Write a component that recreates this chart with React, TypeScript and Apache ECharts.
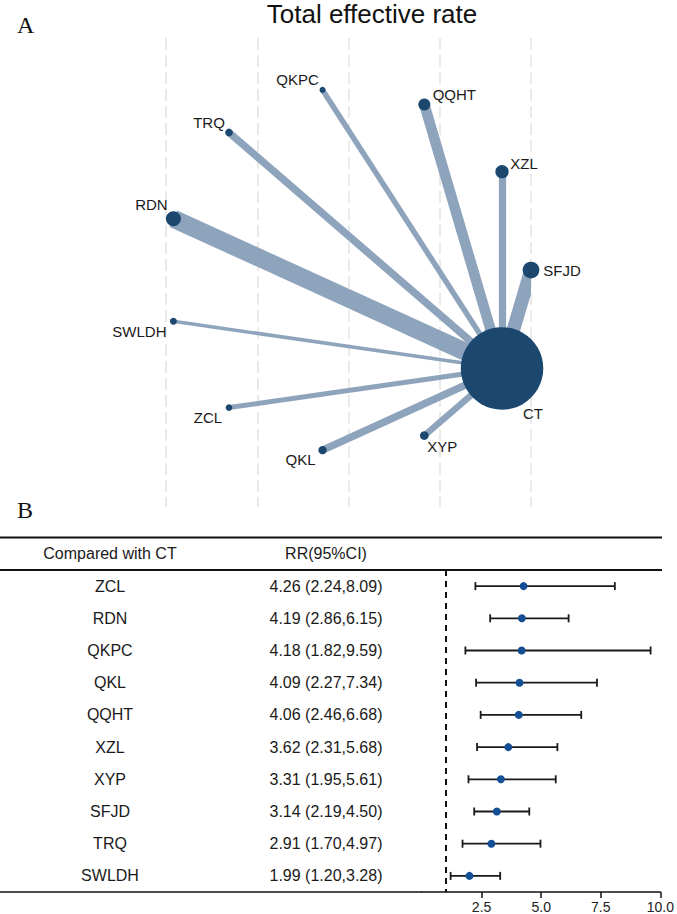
import React, { useEffect, useRef } from "react";
import * as echarts from "echarts";

// ---- Network (panel A) ----
// Treatments in their slot order around the circle (counter-clockwise from the right).
const nodeNames = ["SFJD", "XZL", "QQHT", "QKPC", "TRQ", "RDN", "SWLDH", "ZCL", "QKL", "XYP", "CT"];
// Node sizes (px diameter, proportional to sample size)
const nodeSizes = [16.7, 13.3, 12, 6, 7.7, 15, 7, 6.7, 8.3, 8.7, 82.5];
// Every treatment is compared directly with CT; edge widths follow the number of trials.
const spokeNames = ["SFJD", "XZL", "QQHT", "QKPC", "TRQ", "RDN", "SWLDH", "ZCL", "QKL", "XYP"];
const spokeWidths = [13.5, 7.3, 10.5, 5.5, 7.5, 18, 3.5, 5, 7.5, 6.5];
const hubName = "CT";
const gridTicks = [-1, -0.5, 0, 0.5, 1];

// ---- Forest plot (panel B) ----
const forestNames = ["ZCL", "RDN", "QKPC", "QKL", "QQHT", "XZL", "XYP", "SFJD", "TRQ", "SWLDH"];
const rrValues = [4.26, 4.19, 4.18, 4.09, 4.06, 3.62, 3.31, 3.14, 2.91, 1.99];
const ciLow = [2.24, 2.86, 1.82, 2.27, 2.46, 2.31, 1.95, 2.19, 1.7, 1.2];
const ciHigh = [8.09, 6.15, 9.59, 7.34, 6.68, 5.68, 5.61, 4.5, 4.97, 3.28];
const nullValue = 1;

// label offsets (label centre relative to node centre)
const labelOffsets: Record<string, [number, number]> = {
  SFJD: [31, 0],
  XZL: [22, -8],
  QQHT: [30, -10],
  QKPC: [-25, -10],
  TRQ: [-20, -10],
  RDN: [-22, -14],
  SWLDH: [-34, 10],
  ZCL: [-21, 10],
  QKL: [-22, 9],
  XYP: [18, 11],
  CT: [31, 45],
};

const SANS = "'Liberation Sans', Arial, Helvetica, sans-serif";
const SERIF = "'Liberation Serif', 'Times New Roman', serif";

export default function App() {
  const ref = useRef<HTMLDivElement>(null);

  useEffect(() => {
    document.body.style.margin = "0";
    const chart = echarts.init(ref.current!, undefined, { renderer: "svg" });

    // circular layout: one equal slot per treatment
    const slot = (Math.PI * 2) / nodeNames.length;
    const posOf = (name: string) => {
      const i = nodeNames.indexOf(name);
      return [Math.cos(i * slot), Math.sin(i * slot)];
    };
    const nodeData = nodeNames.map((name, i) => ({
      name,
      value: posOf(name),
      symbolSize: nodeSizes[i],
      label: { offset: labelOffsets[name] },
    }));
    const edgeData = spokeNames.map((name, i) => ({
      coords: [posOf(hubName), posOf(name)],
      lineStyle: { width: spokeWidths[i] },
    }));

    const rrText = forestNames.map(
      (_, i) => `${rrValues[i].toFixed(2)} (${ciLow[i].toFixed(2)},${ciHigh[i].toFixed(2)})`
    );
    const ciData = forestNames.map((_, i) => [ciLow[i], ciHigh[i], i]);
    const pointData = forestNames.map((_, i) => [rrValues[i], i]);

    const ruleStyle = { stroke: "#111", lineWidth: 2 };

    chart.setOption({
      animation: false,
      backgroundColor: "#fff",
      grid: [
        { left: 166, top: 38, width: 365, height: 469 },
        { left: 422, top: 570, width: 239.3, height: 322 },
      ],
      xAxis: [
        {
          type: "value",
          gridIndex: 0,
          min: gridTicks[0],
          max: gridTicks[gridTicks.length - 1],
          interval: 0.5,
          axisLine: { show: false },
          axisTick: { show: false },
          axisLabel: { show: false },
          splitLine: {
            show: true,
            lineStyle: { color: "#e3e3e3", width: 1.5, type: [12, 5] },
          },
        },
        {
          type: "value",
          gridIndex: 1,
          min: 0,
          max: 10,
          interval: 2.5,
          axisLine: { show: true, lineStyle: { color: "#111", width: 1.5 } },
          axisTick: {
            show: true,
            inside: false,
            length: 6,
            lineStyle: { color: "#111", width: 1.5 },
          },
          axisLabel: {
            showMinLabel: false,
            formatter: (v: number) => v.toFixed(1),
            fontFamily: SANS,
            fontSize: 14,
            color: "#222",
            margin: 8,
          },
          splitLine: { show: false },
        },
      ],
      yAxis: [
        { type: "value", gridIndex: 0, min: -1.302, max: 1.275, show: false },
        {
          type: "category",
          gridIndex: 1,
          inverse: true,
          data: forestNames,
          axisLine: { show: false },
          axisTick: { show: false },
          axisLabel: {
            margin: 312,
            align: "center",
            fontFamily: SANS,
            fontSize: 16,
            color: "#1a1a1a",
          },
        },
        {
          type: "category",
          gridIndex: 1,
          position: "left",
          inverse: true,
          data: rrText,
          axisLine: { show: false },
          axisTick: { show: false },
          axisLabel: {
            margin: 96,
            align: "center",
            fontFamily: SANS,
            fontSize: 16,
            color: "#1a1a1a",
          },
        },
      ],
      series: [
        {
          type: "lines",
          coordinateSystem: "cartesian2d",
          xAxisIndex: 0,
          yAxisIndex: 0,
          data: edgeData,
          lineStyle: { color: "#8ea3bc", opacity: 1, curveness: 0 },
          silent: true,
          z: 2,
        },
        {
          type: "scatter",
          xAxisIndex: 0,
          yAxisIndex: 0,
          data: nodeData,
          symbol: "circle",
          itemStyle: { color: "#1c4870", opacity: 1 },
          label: {
            show: true,
            formatter: "{b}",
            position: "inside",
            color: "#1a1a1a",
            fontFamily: SANS,
            fontSize: 15,
          },
          silent: true,
          z: 3,
        },
        {
          type: "custom",
          xAxisIndex: 1,
          yAxisIndex: 1,
          data: ciData,
          encode: { x: [0, 1], y: 2 },
          renderItem: (params: any, api: any) => {
            const row = api.value(2);
            const a = api.coord([api.value(0), row]);
            const b = api.coord([api.value(1), row]);
            const cap = 4;
            const style = { stroke: "#1a1a1a", lineWidth: 1.8 };
            return {
              type: "group",
              children: [
                { type: "line", shape: { x1: a[0], y1: a[1], x2: b[0], y2: b[1] }, style },
                { type: "line", shape: { x1: a[0], y1: a[1] - cap, x2: a[0], y2: a[1] + cap }, style },
                { type: "line", shape: { x1: b[0], y1: b[1] - cap, x2: b[0], y2: b[1] + cap }, style },
              ],
            };
          },
          silent: true,
        },
        {
          type: "scatter",
          xAxisIndex: 1,
          yAxisIndex: 2,
          data: pointData,
          symbol: "circle",
          symbolSize: 8,
          itemStyle: { color: "#144e94", opacity: 1 },
          markLine: {
            silent: true,
            symbol: "none",
            label: { show: false },
            lineStyle: { color: "#111", width: 2, type: [6, 5] },
            data: [{ xAxis: nullValue }],
          },
          silent: true,
          z: 5,
        },
      ],
      graphic: [
        {
          type: "text",
          x: 372,
          y: 13.5,
          style: {
            text: "Total effective rate",
            fontFamily: SANS,
            fontSize: 26,
            fill: "#111",
            align: "center",
            verticalAlign: "middle",
          },
        },
        {
          type: "text",
          x: 17,
          y: 24.5,
          style: { text: "A", fontFamily: SERIF, fontSize: 24, fill: "#111", verticalAlign: "middle" },
        },
        {
          type: "text",
          x: 17,
          y: 510,
          style: { text: "B", fontFamily: SERIF, fontSize: 24, fill: "#111", verticalAlign: "middle" },
        },
        { type: "line", shape: { x1: 0, y1: 537.5, x2: 662, y2: 537.5 }, style: ruleStyle },
        { type: "line", shape: { x1: 0, y1: 570, x2: 662, y2: 570 }, style: ruleStyle },
        { type: "line", shape: { x1: 0, y1: 892, x2: 422, y2: 892 }, style: { stroke: "#111", lineWidth: 1.5 } },
        {
          type: "text",
          x: 110,
          y: 553,
          style: {
            text: "Compared with CT",
            fontFamily: SANS,
            fontSize: 16,
            fill: "#1a1a1a",
            align: "center",
            verticalAlign: "middle",
          },
        },
        {
          type: "text",
          x: 326,
          y: 553,
          style: {
            text: "RR(95%CI)",
            fontFamily: SANS,
            fontSize: 16,
            fill: "#1a1a1a",
            align: "center",
            verticalAlign: "middle",
          },
        },
      ],
    });

    return () => chart.dispose();
  }, []);

  return <div ref={ref} style={{ width: 677, height: 914 }} />;
}
